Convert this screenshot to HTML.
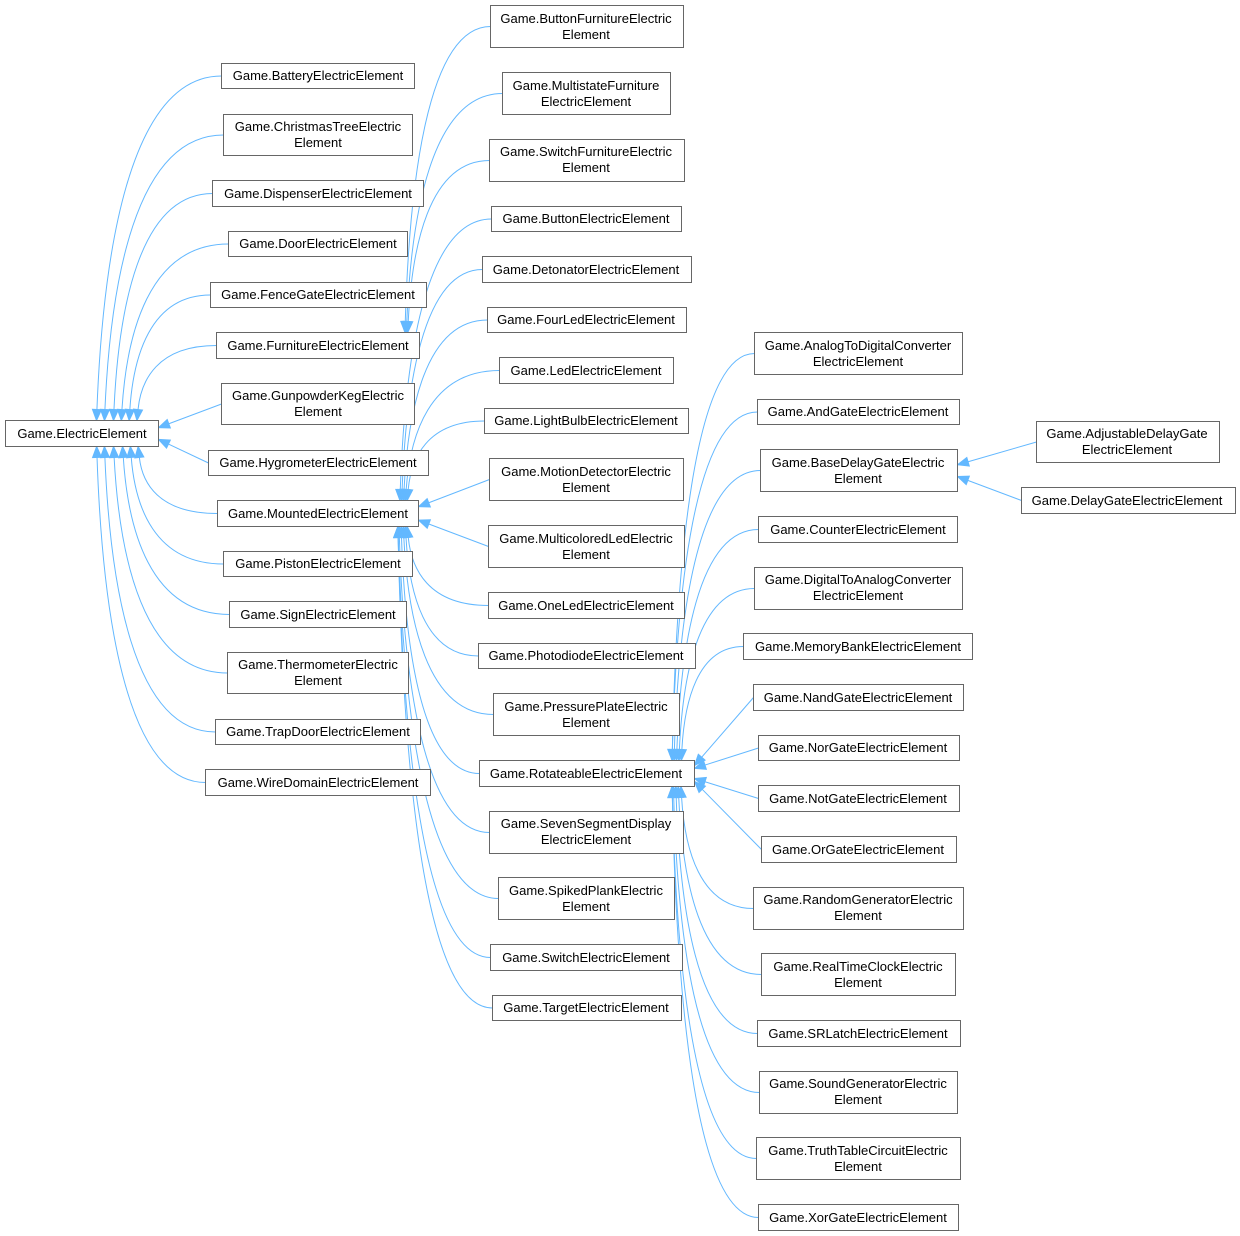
<!DOCTYPE html>
<html><head><meta charset="utf-8">
<style>
html,body{margin:0;padding:0;background:#fff;}
svg{display:block;}
text{font-family:"Liberation Sans",Arial,sans-serif;font-size:13px;fill:#000;text-anchor:middle;}
rect{fill:#fff;stroke:#666;stroke-width:1;}
.e{fill:none;stroke:#63b8ff;stroke-width:1;}
.a{fill:#63b8ff;stroke:#63b8ff;stroke-width:1;}
</style></head><body>
<svg id="g" width="1240" height="1236" viewBox="0 0 1240 1236" xmlns="http://www.w3.org/2000/svg">
<g id="edges"></g>
<g id="nodes">
<rect x="5.5" y="420.5" width="153" height="26"/><text x="82" y="438">Game.ElectricElement</text>

<rect x="221.5" y="63.5" width="193" height="25"/><text x="318" y="80">Game.BatteryElectricElement</text>
<rect x="223.5" y="114.5" width="189" height="41"/><text x="318" y="131">Game.ChristmasTreeElectric</text><text x="318" y="147">Element</text>
<rect x="212.5" y="180.5" width="211" height="26"/><text x="318" y="198">Game.DispenserElectricElement</text>
<rect x="228.5" y="231.5" width="179" height="25"/><text x="318" y="248">Game.DoorElectricElement</text>
<rect x="210.5" y="282.5" width="216" height="25"/><text x="318" y="299">Game.FenceGateElectricElement</text>
<rect x="216.5" y="332.5" width="203" height="26"/><text x="318" y="350">Game.FurnitureElectricElement</text>
<rect x="221.5" y="383.5" width="193" height="41"/><text x="318" y="400">Game.GunpowderKegElectric</text><text x="318" y="416">Element</text>
<rect x="208.5" y="450.5" width="220" height="25"/><text x="318" y="467">Game.HygrometerElectricElement</text>
<rect x="217.5" y="500.5" width="201" height="26"/><text x="318" y="518">Game.MountedElectricElement</text>
<rect x="223.5" y="551.5" width="189" height="25"/><text x="318" y="568">Game.PistonElectricElement</text>
<rect x="229.5" y="601.5" width="177" height="26"/><text x="318" y="619">Game.SignElectricElement</text>
<rect x="227.5" y="652.5" width="181" height="41"/><text x="318" y="669">Game.ThermometerElectric</text><text x="318" y="685">Element</text>
<rect x="215.5" y="719.5" width="205" height="25"/><text x="318" y="736">Game.TrapDoorElectricElement</text>
<rect x="205.5" y="769.5" width="225" height="26"/><text x="318" y="787">Game.WireDomainElectricElement</text>

<rect x="490.5" y="5.5" width="193" height="42"/><text x="586" y="23">Game.ButtonFurnitureElectric</text><text x="586" y="39">Element</text>
<rect x="502.5" y="72.5" width="168" height="42"/><text x="586" y="90">Game.MultistateFurniture</text><text x="586" y="106">ElectricElement</text>
<rect x="489.5" y="139.5" width="195" height="42"/><text x="586" y="156">Game.SwitchFurnitureElectric</text><text x="586" y="172">Element</text>
<rect x="491.5" y="206.5" width="190" height="25"/><text x="586" y="223">Game.ButtonElectricElement</text>
<rect x="482.5" y="256.5" width="209" height="26"/><text x="586" y="274">Game.DetonatorElectricElement</text>
<rect x="487.5" y="307.5" width="199" height="25"/><text x="586" y="324">Game.FourLedElectricElement</text>
<rect x="499.5" y="357.5" width="174" height="26"/><text x="586" y="375">Game.LedElectricElement</text>
<rect x="484.5" y="408.5" width="204" height="25"/><text x="586" y="425">Game.LightBulbElectricElement</text>
<rect x="489.5" y="458.5" width="194" height="42"/><text x="586" y="476">Game.MotionDetectorElectric</text><text x="586" y="492">Element</text>
<rect x="488.5" y="525.5" width="196" height="42"/><text x="586" y="543">Game.MulticoloredLedElectric</text><text x="586" y="559">Element</text>
<rect x="488.5" y="592.5" width="196" height="26"/><text x="586" y="610">Game.OneLedElectricElement</text>
<rect x="478.5" y="643.5" width="217" height="25"/><text x="586" y="660">Game.PhotodiodeElectricElement</text>
<rect x="493.5" y="693.5" width="186" height="42"/><text x="586" y="711">Game.PressurePlateElectric</text><text x="586" y="727">Element</text>
<rect x="479.5" y="760.5" width="215" height="26"/><text x="586" y="778">Game.RotateableElectricElement</text>
<rect x="489.5" y="811.5" width="194" height="42"/><text x="586" y="828">Game.SevenSegmentDisplay</text><text x="586" y="844">ElectricElement</text>
<rect x="498.5" y="877.5" width="176" height="42"/><text x="586" y="895">Game.SpikedPlankElectric</text><text x="586" y="911">Element</text>
<rect x="490.5" y="944.5" width="192" height="26"/><text x="586" y="962">Game.SwitchElectricElement</text>
<rect x="492.5" y="995.5" width="189" height="25"/><text x="586" y="1012">Game.TargetElectricElement</text>

<rect x="754.5" y="332.5" width="208" height="42"/><text x="858" y="350">Game.AnalogToDigitalConverter</text><text x="858" y="366">ElectricElement</text>
<rect x="757.5" y="399.5" width="202" height="25"/><text x="858" y="416">Game.AndGateElectricElement</text>
<rect x="760.5" y="449.5" width="197" height="42"/><text x="858" y="467">Game.BaseDelayGateElectric</text><text x="858" y="483">Element</text>
<rect x="758.5" y="516.5" width="199" height="26"/><text x="858" y="534">Game.CounterElectricElement</text>
<rect x="754.5" y="567.5" width="208" height="42"/><text x="858" y="584">Game.DigitalToAnalogConverter</text><text x="858" y="600">ElectricElement</text>
<rect x="743.5" y="633.5" width="229" height="26"/><text x="858" y="651">Game.MemoryBankElectricElement</text>
<rect x="753.5" y="684.5" width="210" height="26"/><text x="858" y="702">Game.NandGateElectricElement</text>
<rect x="758.5" y="735.5" width="201" height="25"/><text x="858" y="752">Game.NorGateElectricElement</text>
<rect x="758.5" y="785.5" width="201" height="26"/><text x="858" y="803">Game.NotGateElectricElement</text>
<rect x="761.5" y="836.5" width="195" height="26"/><text x="858" y="854">Game.OrGateElectricElement</text>
<rect x="753.5" y="887.5" width="210" height="42"/><text x="858" y="904">Game.RandomGeneratorElectric</text><text x="858" y="920">Element</text>
<rect x="761.5" y="953.5" width="194" height="42"/><text x="858" y="971">Game.RealTimeClockElectric</text><text x="858" y="987">Element</text>
<rect x="757.5" y="1020.5" width="203" height="26"/><text x="858" y="1038">Game.SRLatchElectricElement</text>
<rect x="759.5" y="1071.5" width="198" height="42"/><text x="858" y="1088">Game.SoundGeneratorElectric</text><text x="858" y="1104">Element</text>
<rect x="756.5" y="1137.5" width="204" height="42"/><text x="858" y="1155">Game.TruthTableCircuitElectric</text><text x="858" y="1171">Element</text>
<rect x="758.5" y="1204.5" width="200" height="26"/><text x="858" y="1222">Game.XorGateElectricElement</text>

<rect x="1036.5" y="421.5" width="183" height="41"/><text x="1127" y="438">Game.AdjustableDelayGate</text><text x="1127" y="454">ElectricElement</text>
<rect x="1021.5" y="487.5" width="214" height="26"/><text x="1127" y="505">Game.DelayGateElectricElement</text>
</g>
</svg>
<script>
(function(){
var NS="http://www.w3.org/2000/svg";
var G=document.getElementById("edges");
var rs=[].slice.call(document.querySelectorAll("#nodes rect")).map(function(r){
 var x=+r.getAttribute("x"),y=+r.getAttribute("y"),w=+r.getAttribute("width"),h=+r.getAttribute("height");
 return {x1:x,y1:y,x2:x+w,y2:y+h,cy:y+h/2};});
var EE=0, FUR=6, MNT=9, ROT=28, BDG=35;
var edges=[];
for(var i=1;i<=14;i++) edges.push([i,EE,60]);
edges.push([15,FUR,8],[16,FUR,8],[17,FUR,8]);
for(var i=18;i<=32;i++) edges.push([i,MNT,14]);
for(var i=33;i<=48;i++) edges.push([i,ROT,16]);
edges.push([49,BDG,0],[50,BDG,0]);
function add(d,cls){var p=document.createElementNS(NS,"path");p.setAttribute("d",d);p.setAttribute("class",cls);G.appendChild(p);}
edges.forEach(function(e){
 var c=rs[e[0]],p=rs[e[1]],k=e[2];
 var sx=c.x1,sy=c.cy,dy=sy-p.cy,ad=Math.abs(dy);
 var T,C1,C2;
 if(ad<80||k===0){
  T=[p.x2,p.cy+Math.max(-8,Math.min(8,dy*0.2))];
  C1=[sx+(T[0]-sx)*0.33,sy+(T[1]-sy)*0.33];C2=[sx+(T[0]-sx)*0.66,sy+(T[1]-sy)*0.66];
 } else {
  var f=Math.min(1,ad/350);
  var tx=p.x2-8-k*f*0.9;
  var ty=dy<0?p.y1:p.y2;
  T=[tx,ty];
  C1=[sx-(sx-tx)*0.75,sy];
  C2=[tx+(sx-tx)*0.05,ty+dy*0.45];
 }
 var dx=T[0]-C2[0],dyy=T[1]-C2[1],L=Math.sqrt(dx*dx+dyy*dyy)||1;dx/=L;dyy/=L;
 var B=[T[0]-dx*11,T[1]-dyy*11];
 add("M"+sx+","+sy+" C"+C1+" "+C2+" "+B,"e");
 var nx=-dyy,ny=dx;
 add("M"+T+" L"+(B[0]+nx*4.5)+","+(B[1]+ny*4.5)+" L"+(B[0]-nx*4.5)+","+(B[1]-ny*4.5)+"Z","a");
});
})();
</script>
</body></html>
